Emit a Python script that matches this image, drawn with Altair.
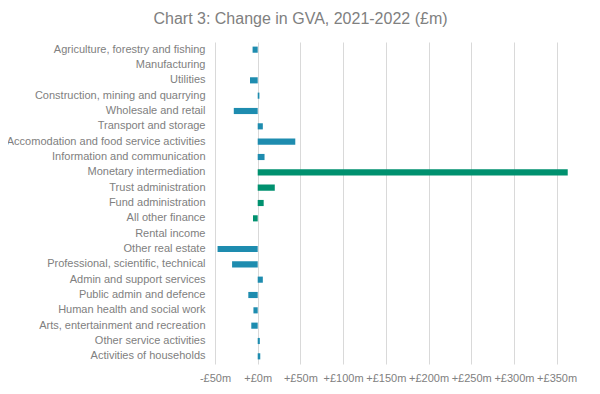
import altair as alt
import pandas as pd

categories = [
    "Agriculture, forestry and fishing",
    "Manufacturing",
    "Utilities",
    "Construction, mining and quarrying",
    "Wholesale and retail",
    "Transport and storage",
    "Accomodation and food service activities",
    "Information and communication",
    "Monetary intermediation",
    "Trust administration",
    "Fund administration",
    "All other finance",
    "Rental income",
    "Other real estate",
    "Professional, scientific, technical",
    "Admin and support services",
    "Public admin and defence",
    "Human health and social work",
    "Arts, entertainment and recreation",
    "Other service activities",
    "Activities of households",
]
values = [-6, 0, -9, 2, -28, 6, 44, 8, 363, 20, 7, -5.5, 0, -47, -30, 6, -11, -5, -7.5, 2.5, 3]
groups = ["Other", "Other", "Other", "Other", "Other", "Other", "Other", "Other",
          "Finance", "Finance", "Finance", "Finance",
          "Other", "Other", "Other", "Other", "Other", "Other", "Other", "Other", "Other"]
tick_values = [-50, 0, 50, 100, 150, 200, 250, 300, 350]

df = pd.DataFrame({"sector": categories, "change": values, "group": groups})

font = "Liberation Sans"
grey = "#808080"

chart = alt.Chart(df).mark_bar().encode(
    y=alt.Y("sector:N", sort=categories, title=None,
            scale=alt.Scale(paddingInner=0.6, paddingOuter=0.3),
            axis=alt.Axis(domain=False, ticks=False, labelPadding=10, labelFontSize=11,
                          labelColor=grey, labelFont=font, labelLimit=300)),
    x=alt.X("change:Q", title=None,
            scale=alt.Scale(domain=[-50, 368], nice=False, zero=False),
            axis=alt.Axis(values=tick_values, domain=False, ticks=False, grid=True,
                          gridColor="#d9d9d9", labelFontSize=11, labelColor=grey,
                          labelFont=font, labelPadding=8, labelOverlap=False,
                          labelFlush=False,
                          labelExpr="datum.value < 0 ? '-£' + abs(datum.value) + 'm' : '+£' + datum.value + 'm'")),
    color=alt.Color("group:N", legend=None,
                    scale=alt.Scale(domain=["Other", "Finance"], range=["#1e8caf", "#00916f"])),
).properties(
    width=357, height=322,
    padding={"left": 207, "top": 34, "right": 20, "bottom": 30},
    autosize="none",
    title=alt.TitleParams("Chart 3: Change in GVA, 2021-2022 (£m)", fontSize=16, font=font,
                          color=grey, fontWeight="normal", anchor="middle", frame="group",
                          dx=-93, offset=15),
).configure_view(stroke=None)

chart.save("out.html", embed_options={"renderer": "svg", "actions": False})
